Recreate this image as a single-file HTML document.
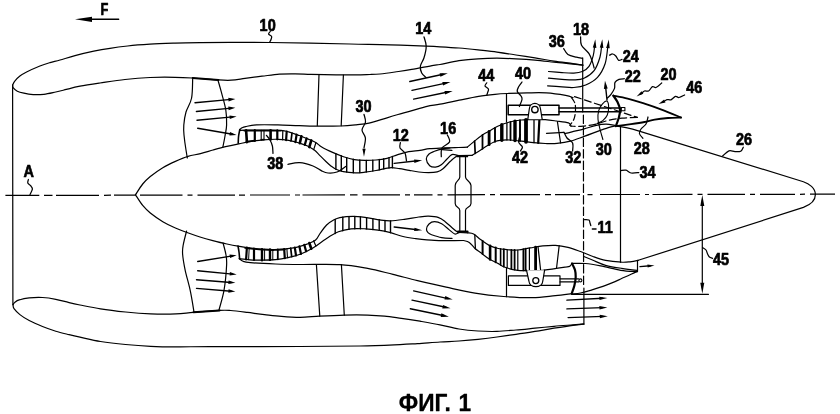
<!DOCTYPE html>
<html lang="ru">
<head>
<meta charset="utf-8">
<title>ФИГ. 1</title>
<style>
html,body{margin:0;padding:0;background:#fff;}
body{width:840px;height:414px;overflow:hidden;}
svg{display:block;will-change:transform;}
svg text{font-family:"Liberation Sans",sans-serif;font-weight:bold;fill:#000;stroke:#000;stroke-width:0.7;stroke-linejoin:round;}
svg text.cap{stroke-width:0.3;}
</style>
</head>
<body>
<svg width="840" height="414" viewBox="0 0 840 414">
<g fill="none" stroke="#000" stroke-width="1.2" stroke-linecap="round" stroke-linejoin="round">
<path d="M5.4,195.4 L39.3,195.4 M44,195.3 L52.5,195.3 M56,195.3 L99,195.3 M104,195.3 L111,195.2 M114,195.2 L135.5,195.2 M140,195.2 L182.5,195.1 M187.5,195.1 L192.5,195.1 M197.5,195.1 L235,195.1 M239,195.1 L245,195.1 M250,195 L290,195 M295,195 L300,195 M302.5,195 L345,194.9 M350,194.9 L357.5,194.9 M362.5,194.9 L400,194.8 M405,194.8 L410,194.8 M414,194.8 L432.5,194.8 M437.5,194.8 L442.5,194.8 M447.5,194.8 L485,194.7 M490,194.7 L495,194.7 M500,194.7 L540,194.6 M545,194.6 L551,194.6 M555,194.6 L580,194.6 M587.5,194.6 L592.5,194.6 M600,194.5 L640,194.5 M645,194.5 L649,194.5 M652.5,194.5 L692.5,194.4 M697.5,194.4 L702.5,194.4 M707.5,194.4 L745,194.3 M750,194.3 L755,194.3 M760,194.3 L795,194.3 M800,194.3 L805,194.2 M810,194.2 L835,194.2" stroke-linecap="butt"/>
<path d="M12.6,85.2 L12.9,304.5"/>
<path d="M12.6,85.2 C12.9,84.5 13.4,82.8 14.6,81.3 C15.8,79.8 17.9,77.5 19.9,76 C21.9,74.5 23.3,73.7 26.6,72 C29.9,70.3 36,67.6 39.9,66 C43.8,64.4 46.6,63.6 50,62.6 C53.4,61.6 55.8,61.2 60,60 C64.2,58.8 69.4,57.1 75,55.6 C80.6,54.1 88,52.3 93.8,51.1 C99.6,49.9 104.4,49.1 110,48.3 C115.6,47.4 120.9,46.7 127.6,46 C134.3,45.3 142.1,44.7 150,44.2 C157.9,43.7 166.7,43.4 175,43.1 C183.3,42.8 190.8,42.7 200,42.6 C209.2,42.5 218.3,42.4 230,42.4 C241.7,42.4 250,42.2 270,42.5 C290,42.8 330,43.6 350,44 C370,44.4 377.3,44.4 390,44.8 C402.7,45.2 417.9,45.9 426.2,46.2 C434.5,46.5 434.5,46.5 440,46.8 C445.5,47.1 452.7,47.5 459,48 C465.3,48.5 471.7,49.2 478,49.9 C484.3,50.6 490.7,51.2 497,52.1 C503.3,53 509.7,54 516,55 C522.3,56 528.7,56.9 535,57.9 C541.3,58.9 547.7,60.1 554,61.1 C560.3,62.1 568.2,62.9 573,63.6 C577.8,64.3 581.2,64.8 582.9,65.1"/>
<path d="M12.6,85.2 C12.7,85.7 12.5,86.9 13.3,87.9 C14.1,88.9 15.5,90.3 17.3,91.2 C19.1,92.1 21.2,92.6 23.9,93.2 C26.5,93.8 29.9,94.4 33.2,94.6 C36.5,94.8 40.1,94.7 43.9,94.3 C47.7,93.9 52,92.8 55.8,92 C59.5,91.2 62.4,90.4 66.4,89.4 C70.4,88.4 74.4,87.3 80,86.2 C85.6,85.1 92.5,84.1 100,83 C107.5,81.9 116.7,80.4 125,79.5 C133.3,78.6 141.7,77.9 150,77.5 C158.3,77.1 167.9,77.2 175,77.3 C182.1,77.4 185.6,77.6 192.7,78 C199.8,78.4 211.4,79.5 217.8,79.9 C224.2,80.3 226.8,80.5 231.3,80.2 C235.8,80 239.9,79.1 245,78.4 C250.1,77.7 256.3,76.9 262,76.2 C267.7,75.5 273.9,74.5 279.4,74.1 C284.9,73.7 289.8,73.8 295,73.8 C300.2,73.8 304,74.1 310.8,74.3 C317.6,74.5 328.5,74.7 336,74.8 C343.5,74.9 350.3,74.8 356,74.8 C361.7,74.8 366,74.6 370,74.5 C374,74.4 375.8,74.4 380,74 C384.2,73.6 389.7,72.8 395,72 C400.3,71.2 405.3,70.5 411.7,69.4 C418.1,68.3 428.8,66.1 433.5,65.3 C438.2,64.5 435.8,65.3 440,64.5 C444.2,63.7 452.7,61.7 459,60.7 C465.3,59.8 471.7,59.2 478,58.8 C484.3,58.4 490.7,58.2 497,58.2 C503.3,58.2 509.7,58.5 516,58.8 C522.3,59.1 528.7,59.5 535,60.1 C541.3,60.7 547.7,61.5 554,62.2 C560.3,62.9 568.2,63.6 573,64.1 C577.8,64.6 581.2,64.9 582.9,65.1"/>
<path d="M192.7,78 L218.4,80" stroke-width="2"/>
<path d="M13,304.8 C13.2,305.4 12.8,307 14,308.6 C15.2,310.2 17.4,312.6 19.9,314.6 C22.4,316.6 25.4,318.5 29.2,320.5 C33,322.5 38.1,324.7 42.5,326.5 C46.9,328.3 51.4,329.8 55.8,331.2 C60.2,332.6 65.1,333.7 69.1,334.7 C73.1,335.7 74.8,336.1 80,337.2 C85.2,338.3 92.9,340.3 100.5,341.5 C108.1,342.7 117.2,343.7 125.6,344.5 C134,345.3 142.3,345.9 150.7,346.3 C159.1,346.7 166.1,346.8 176,346.8 C185.9,346.9 189.3,346.7 210,346.6 C230.7,346.6 275,346.6 300,346.5 C325,346.4 343.3,346.3 360,346 C376.7,345.7 390.4,345 400,344.6 C409.6,344.2 410.8,344 417.5,343.6 C424.2,343.2 433.1,342.4 440,342 C446.9,341.6 452.7,341.4 459,341 C465.3,340.6 471.7,340.1 478,339.4 C484.3,338.7 490.7,337.9 497,337 C503.3,336.1 509.7,335.2 516,334.3 C522.3,333.4 528.7,332.4 535,331.4 C541.3,330.4 547.7,329.2 554,328.2 C560.3,327.2 568,326 573,325.3 C578,324.6 582,324.4 583.8,324.2"/>
<path d="M13,304.8 C13.3,304.4 13.4,303.2 14.6,302.4 C15.8,301.5 17.5,300.4 19.9,299.7 C22.3,298.9 25.4,298.3 29.2,297.9 C33,297.5 38.1,297.3 42.5,297.5 C46.9,297.7 51.4,298.4 55.8,299.3 C60.2,300.2 65.1,301.7 69.1,302.6 C73.1,303.6 74.8,304 80,305 C85.2,306 92.9,307.6 100.5,308.8 C108.1,310 117.2,311.1 125.6,312 C134,312.9 142.3,313.6 150.7,313.9 C159.1,314.2 168.9,314.2 176,313.9 C183.1,313.6 186.2,312.9 193.5,312.3 C200.8,311.7 213.5,310.7 219.7,310.4 C225.9,310.1 226,310.2 230.7,310.5 C235.3,310.8 242,311.7 247.6,312.4 C253.2,313.1 258.9,314 264.5,314.6 C270.1,315.2 275.5,315.9 281.4,316.3 C287.3,316.8 293.7,317.3 300,317.3 C306.3,317.3 312,316.6 319.4,316.2 C326.8,315.8 336.3,315.3 344.3,315.1 C352.3,314.9 360.9,314.9 367.6,315.1 C374.3,315.3 378.9,315.6 384.5,316.1 C390.1,316.6 395.5,317.5 401.4,318.3 C407.3,319.1 413.6,320.1 420,321.2 C426.4,322.3 433.5,323.5 440,324.8 C446.5,326.1 452.7,328 459,329 C465.3,330 471.7,330.6 478,331 C484.3,331.4 490.7,331.6 497,331.4 C503.3,331.2 509.7,330.5 516,330 C522.3,329.5 528.7,328.8 535,328.2 C541.3,327.6 547.7,326.9 554,326.3 C560.3,325.7 568,325.2 573,324.8 C578,324.4 582,324 583.8,323.8"/>
<path d="M193.5,312.3 L219.7,310.4" stroke-width="2"/>
<path d="M135.5,194.8 C136.7,193 140.2,187.1 142.7,184 C145.2,180.9 147,179.2 150.3,176.5 C153.7,173.8 158.6,170.2 162.8,167.7 C167,165.2 171.2,163.3 175.4,161.4 C179.6,159.5 183.8,157.7 188,156.4 C192.2,155.1 196.3,154.7 200.5,153.6 C204.7,152.5 208.8,151.2 213,150 C217.2,148.8 221.3,147.6 225.6,146.6 C229.9,145.6 234.7,144.6 238.8,143.8 C242.9,143 245.9,142.3 250,141.6 C254.1,140.9 258.8,140.2 263.5,139.8 C268.2,139.4 273.8,139.2 278,139.3 C282.2,139.4 285.1,139.8 288.6,140.4 C292.2,141 296.2,142.1 299.3,143 C302.4,143.9 304.5,144.5 307,145.7 C309.5,146.9 312.3,148.5 314.3,150 C316.3,151.5 317.4,153 319.2,154.8 C321,156.6 323.2,158.9 325.2,160.8 C327.2,162.7 329.4,164.8 331.2,166.2 C333,167.6 334,168.4 336,169.3 C338,170.2 340.1,171.1 343.3,171.7 C346.5,172.3 351.4,172.8 355,172.9 C358.6,173 361.5,172.6 365,172.2 C368.5,171.8 372.7,171.1 376,170.5 C379.3,169.9 382.4,169.1 385,168.6 C387.6,168.1 389.4,167.7 391.8,167.7 C394.2,167.7 396.6,168.3 399.5,168.7 C402.4,169.1 406,169.8 409.2,170.3 C412.4,170.9 415.6,171.6 418.8,172 C422,172.4 425.4,172.7 428.5,172.7 C431.6,172.7 434.8,172.6 437.2,171.9 C439.6,171.2 440.8,170.5 443,168.7 C445.2,166.9 448.4,163.1 450.7,161 C452.9,158.9 455.2,157.2 456.5,156.3 C457.8,155.4 458.2,155.8 458.6,155.7"/>
<path d="M458.6,155.7 L472.2,155.3"/>
<path d="M472.2,155.3 C473.2,154.7 475.4,153.3 478,151.7 C480.6,150.1 484.9,147.1 487.6,145.5 C490.3,143.9 491.9,142.9 494,142 C496.1,141.1 497.4,140.6 500,140.3 C502.6,140 506,139.8 509.6,140 C513.2,140.2 517.5,140.8 521.5,141.2 C525.5,141.6 529.4,142.3 533.4,142.7 C537.4,143.1 541.4,143.4 545.3,143.5 C549.2,143.6 552.8,143.8 557,143.4 C561.2,143 565.9,142.4 570.4,141.2 C574.9,140 579.9,137.9 584.2,136.4 C588.5,134.9 592.3,133.4 596.3,131.9 C600.3,130.4 605.1,128.6 608.3,127.6 C611.5,126.6 614.4,126.1 615.6,125.8"/>
<path d="M135.5,194.8 C136.7,196.6 140.2,202.4 142.7,205.4 C145.2,208.4 147,210.3 150.3,213 C153.7,215.7 158.6,219.2 162.8,221.7 C167,224.2 171.2,226.2 175.4,228 C179.6,229.8 183.6,231.3 187.7,232.8 C191.8,234.3 195.8,235.7 200,237 C204.2,238.3 208.6,239.5 212.8,240.6 C217,241.7 221.2,242.8 225.4,243.7 C229.6,244.6 233.3,245.4 238,246.2 C242.7,247 249.2,247.9 253.4,248.4 C257.6,248.9 259.4,249 263,249.2 C266.6,249.4 271.1,249.6 274.9,249.5 C278.7,249.4 282,249.3 285.6,248.9 C289.2,248.5 292.7,248.1 296.3,247.3 C299.9,246.5 303.8,245.3 307,244.1 C310.2,242.9 313.4,241.8 315.6,240 C317.8,238.2 318.2,236 320,233.5 C321.8,231 324.4,227.2 326.6,225 C328.8,222.8 331,221.5 333.2,220.3 C335.4,219.1 336.5,218.3 339.8,217.6 C343.1,216.9 348.7,216.3 353.1,216.3 C357.5,216.3 362,217 366.4,217.6 C370.8,218.2 375.7,219.3 379.7,219.9 C383.7,220.5 386.4,221 390.5,220.9 C394.6,220.8 399.6,220 404.3,219.3 C409,218.7 414.8,217.5 418.8,217 C422.8,216.5 425.3,216.1 428.5,216.2 C431.7,216.3 435.4,216.5 438.1,217.4 C440.8,218.3 442.5,219.6 444.9,221.4 C447.3,223.2 450.5,226.4 452.6,228.2 C454.7,230 456.4,231.3 457.5,232 C458.6,232.7 458.8,232.4 459,232.5"/>
<path d="M459,232.5 L467.8,232.8"/>
<path d="M467.8,232.8 C468.8,233 471.4,232.8 473.6,234 C475.8,235.2 478.2,237.9 480.9,239.8 C483.6,241.7 486.7,244.2 489.6,245.6 C492.5,247 495.4,247.8 498.3,248.5 C501.2,249.2 503.8,249.3 507,249.6 C510.2,249.8 513.8,250.3 517.7,250 C521.6,249.7 526.1,248.6 530.3,247.9 C534.5,247.2 538.6,246.3 542.8,245.9 C547,245.5 551.2,245.2 555.4,245.4 C559.6,245.7 563.8,246.4 568,247.4 C572.2,248.4 576.3,250 580.5,251.5 C584.7,253 588.8,255 593,256.5 C597.2,258 600.9,259.4 605.6,260.3 C610.4,261.2 617.4,261.9 621.5,262.2 C625.6,262.4 627.2,262.1 630,261.8 C632.8,261.5 636.9,260.6 638.3,260.3"/>
<path d="M239.6,130.3 C241.7,130.3 247.8,130.2 252,130.2 C256.2,130.2 260.2,130.2 265,130.2 C269.8,130.2 277.1,130.1 281,130.4 C284.9,130.7 285.6,131 288.6,131.8 C291.7,132.7 295.7,134.2 299.3,135.5 C302.9,136.8 307.1,138.6 310,139.8 C312.9,141.1 314.6,141.8 316.5,143 C318.4,144.2 319,145.4 321.7,147 C324.4,148.6 329,150.8 332.6,152.4 C336.2,154 339.9,155.5 343.5,156.7 C347.1,157.9 350.7,159 354.3,159.6 C357.9,160.2 361.4,160.3 365,160.4 C368.6,160.5 372.3,160.3 376,160 C379.7,159.7 383.4,159.2 387,158.3 C390.6,157.4 394.2,155.7 397.8,154.6 C401.4,153.5 405,152.3 408.7,151.6 C412.4,150.9 416.5,150.8 420,150.3 C423.5,149.8 425.7,149 429.7,148.6 C433.7,148.2 439.4,148.1 444.2,147.9 C449,147.7 454.8,147.6 458.6,147.5 C462.5,147.4 465.9,147.2 467.3,147.2"/>
<path d="M467.3,147.2 C468.6,146.1 472.5,142.7 475.1,140.6 C477.7,138.5 480.4,136.4 482.8,134.8 C485.2,133.2 487.1,132.4 489.6,131 C492.1,129.6 494.4,127.8 497.7,126.3 C501,124.8 505.6,123 509.6,122 C513.6,121 517.5,120.4 521.5,120 C525.5,119.6 529.4,119.5 533.4,119.4 C537.4,119.4 541.4,119.4 545.3,119.7 C549.2,120 552.7,120.5 556.6,121 C560.5,121.5 566.1,122 568.5,122.9 C570.9,123.8 570.6,125.7 571,126.2"/>
<path d="M239.8,129.6 C240.2,129.3 241,128.3 242,127.8 C243,127.3 243.3,127.1 245.7,126.6 C248.1,126.1 251,125.2 256.4,124.9 C261.8,124.6 270.8,124.8 277.9,124.9 C285,125 292.1,125.5 299.3,125.7 C306.6,125.9 314.4,126.2 321.4,126.2 C328.3,126.2 335.2,126.2 341,126 C346.8,125.8 351.3,125.3 356,124.8 C360.7,124.3 363.8,124.4 369,123.2 C374.2,122 382.2,119.2 387,117.8 C391.8,116.3 393.8,115.7 398,114.5 C402.2,113.3 407.2,112 412,110.6 C416.8,109.2 422.3,107.4 427,106.3 C431.7,105.2 434.6,105.2 440,104.2 C445.4,103.2 452.9,101.5 459.3,100.2 C465.7,98.9 472.7,97.4 478.6,96.4 C484.6,95.4 490.2,94.8 495,94.3 C499.8,93.8 502.3,93.7 507.6,93.5 C512.9,93.3 520.5,93 527,92.9 C533.5,92.8 539.9,92.5 546.3,92.9 C552.7,93.3 561.1,94.6 565.6,95.4 C570.1,96.2 571.8,97.2 573,97.6"/>
<path d="M574.5,96.6 L637.3,117.4" stroke-dasharray="7 3.5"/>
<path d="M239.8,129.5 C239.6,130.6 238.9,133.7 238.6,136 C238.3,138.3 238.3,142.1 238.2,143.3" stroke-width="1.6"/>
<path d="M565.5,133.4 C566.6,133.2 568.9,132.7 572,131.9 C575.1,131.1 580.2,129.9 584.2,128.8 C588.2,127.7 592.7,126.2 596.3,125.4 C599.9,124.6 602.8,124.2 606,124.2 C609.2,124.2 614,125.3 615.6,125.5"/>
<path d="M239.2,258.7 C241,258.9 246,259.6 250,259.8 C254,260.1 258.7,260.2 263,260.2 C267.3,260.2 271.4,260.1 275.6,259.7 C279.8,259.3 283.8,258.6 288,257.7 C292.2,256.8 296.6,255.7 300.8,254 C305,252.3 309.1,250.2 313.3,247.7 C317.5,245.2 321.7,241.6 325.9,238.9 C330.1,236.2 334.2,233.5 338.4,231.8 C342.6,230.1 346.5,229.3 351,228.8 C355.5,228.3 360.9,228.6 365.4,228.8 C369.9,229 373.8,229.5 378,230.2 C382.2,230.8 386.3,231.6 390.5,232.7 C394.7,233.8 398.8,235.5 403,236.5 C407.2,237.5 410.4,237.9 415.6,238.6 C420.9,239.2 428.9,240.1 434.5,240.4 C440.1,240.7 444.2,240.6 449,240.6 C453.8,240.6 461.1,240.5 463.5,240.5"/>
<path d="M463.5,240.5 C464.5,240.8 467.4,241.1 469.3,242.4 C471.2,243.7 473.1,246.8 475,248.5 C476.9,250.2 478.5,251 480.9,252.8 C483.3,254.6 486.7,257.5 489.6,259.3 C492.5,261.1 495.7,262.3 498.3,263.6 C500.9,264.9 501.8,266.2 505,267.3 C508.2,268.4 513.5,269.8 517.7,270.3 C521.9,270.8 526.1,270.5 530.3,270.5 C534.5,270.5 538.9,270.6 542.8,270.3 C546.7,270 549.9,269.3 553.6,268.8 C557.3,268.3 562.3,267.6 565,267.2 C567.7,266.8 568.4,267 569.6,266.4 C570.8,265.8 571.6,263.9 572,263.4"/>
<path d="M239.4,258.7 C240,259.1 241.2,260.6 243,261.3 C244.8,262 245.1,262.2 250.5,262.6 C255.9,263.1 267.2,263.7 275.6,264 C284,264.3 290.1,264.4 300.8,264.5 C311.5,264.6 328.9,264 340,264.6 C351.1,265.2 358.8,266.8 367.6,268.4 C376.4,270 384.7,272.4 393,274.4 C401.3,276.4 408.6,278.5 417.5,280.6 C426.4,282.7 436.6,285.1 446.2,287.2 C455.8,289.3 465.4,291.6 475,293.2 C484.6,294.8 494.1,295.8 503.7,296.5 C513.3,297.2 523.8,297.8 532.4,297.6 C541,297.5 548.8,296.2 555.4,295.6 C562,295 569,294 571.7,293.7"/>
<path d="M238,246 C238.2,247 238.7,249.9 239,252 C239.3,254.1 239.5,257.6 239.6,258.7" stroke-width="1.6"/>
<path d="M192.7,78 C192.5,81.3 192.7,92.3 191.6,98 C190.5,103.7 187.3,107.5 186,112 C184.7,116.5 184.1,121.2 183.8,125 C183.5,128.8 183.6,130.8 184,135 C184.4,139.2 185.4,146.2 186,150 C186.6,153.8 187.1,156.7 187.3,158"/>
<path d="M217.8,79.6 C218.4,81.8 220.2,87.6 221.5,92.7 C222.8,97.8 225,104.6 225.8,110 C226.7,115.4 226.7,120.7 226.6,125 C226.5,129.3 225.6,132.3 225,136 C224.4,139.7 223.2,145.4 222.8,147.3"/>
<path d="M186.6,231 C186,233.3 183.9,241.2 183.2,245 C182.5,248.8 182.3,249.8 182.6,254 C182.9,258.2 183.9,264.2 185.2,270.3 C186.5,276.4 188.7,283.4 190.2,290.4 C191.7,297.3 193.4,308.4 194,312"/>
<path d="M223,242.8 C223.5,244.8 225.4,251.2 226,255 C226.6,258.8 226.9,259.4 226.6,265.3 C226.3,271.2 225.3,282.9 224,290.4 C222.7,297.8 219.8,306.7 219,310"/>
<path d="M195,102.7 L231.2,99.4" stroke-width="1.4"/>
<polygon fill="#000" stroke="none" points="235.4,99 228.6,101.4 228.3,97.8"/>
<path d="M196.4,111.5 L231.2,108.1" stroke-width="1.4"/>
<polygon fill="#000" stroke="none" points="235.4,107.7 228.6,110.2 228.3,106.6"/>
<path d="M197,120.3 L232.4,116.9" stroke-width="1.4"/>
<polygon fill="#000" stroke="none" points="236.6,116.5 229.8,119 229.5,115.4"/>
<path d="M197.7,128.3 L232.5,134.2" stroke-width="1.4"/>
<polygon fill="#000" stroke="none" points="236.6,134.9 229.4,135.5 230,132"/>
<path d="M197.7,261.5 L232.6,255.9" stroke-width="1.4"/>
<polygon fill="#000" stroke="none" points="236.7,255.2 230.1,258.1 229.5,254.5"/>
<path d="M197.7,270.8 L232.5,274.1" stroke-width="1.4"/>
<polygon fill="#000" stroke="none" points="236.7,274.5 229.6,275.6 229.9,272"/>
<path d="M196.5,279.8 L231.2,282.5" stroke-width="1.4"/>
<polygon fill="#000" stroke="none" points="235.4,282.8 228.3,284.1 228.6,280.5"/>
<path d="M196.5,288.4 L231.2,291.3" stroke-width="1.4"/>
<polygon fill="#000" stroke="none" points="235.4,291.6 228.3,292.8 228.6,289.2"/>
<path d="M319,74.6 L317.3,125.6"/>
<path d="M343.4,75 L341.2,125.6"/>
<path d="M316.4,264.6 L319.8,316.1"/>
<path d="M341.4,264.6 L344.3,315.2"/>
<path d="M246.1,130.2 L246.9,142.2" stroke-width="2.6"/>
<path d="M254.8,130.2 L254.8,141" stroke-width="2.2"/>
<path d="M261.2,130.2 L261.2,140.1" stroke-width="1.1"/>
<path d="M264,130.2 L264,139.8" stroke-width="1.1"/>
<path d="M270.6,130.3 L270.6,139.6" stroke-width="2.6"/>
<path d="M277.3,130.4 L277.3,139.3" stroke-width="2.2"/>
<path d="M282.8,130.7 L282.6,139.8" stroke-width="1.2"/>
<path d="M286.7,131.5 L286.1,140.1" stroke-width="2.2"/>
<path d="M292,133 L291,141" stroke-width="1.7"/>
<path d="M296.6,134.6 L295.4,142.1" stroke-width="2.2"/>
<path d="M301.4,136.3 L299.8,143.2" stroke-width="2.6"/>
<path d="M306.6,138.4 L304.8,144.9" stroke-width="2.2"/>
<path d="M311.3,140.4 L309.3,147.1" stroke-width="2.6"/>
<path d="M315.9,142.7 L313.7,149.6" stroke-width="1.2"/>
<path d="M245,248 C246.4,248.2 250.4,248.7 253.4,249 C256.4,249.3 259.4,249.6 263,249.8 C266.6,250 271.2,250.2 274.9,250.1 C278.6,250 283.3,249.6 285,249.5" stroke-width="1.5"/>
<path d="M244,130.6 C246.7,130.6 253.8,130.6 260,130.6 C266.2,130.6 277.5,130.8 281,130.8" stroke-width="1.6"/>
<path d="M246.5,141.6 L254.8,140.6" stroke-width="1.6"/>
<path d="M261.2,139.8 L264,139.6" stroke-width="1.6"/>
<path d="M246.9,247.5 L246.1,259.4" stroke-width="2.2"/>
<path d="M249.2,247.8 L248.6,259.7" stroke-width="1"/>
<path d="M254,248.5 L254,259.9" stroke-width="2.2"/>
<path d="M262,249.1 L262,260.2" stroke-width="2.4"/>
<path d="M264.6,249.2 L264.6,260.1" stroke-width="1"/>
<path d="M270,249.4 L270,259.9" stroke-width="2.4"/>
<path d="M272.8,249.4 L272.8,259.8" stroke-width="1"/>
<path d="M277.8,249.3 L277.8,259.3" stroke-width="1.8"/>
<path d="M284.2,249 L284.8,258.2" stroke-width="2.2"/>
<path d="M286.9,248.7 L287.5,257.8" stroke-width="1.1"/>
<path d="M290.7,248.1 L291.7,256.6" stroke-width="1.7"/>
<path d="M294.8,247.5 L296,255.4" stroke-width="2.2"/>
<path d="M299.4,246.4 L301,253.9" stroke-width="2.2"/>
<path d="M304.3,244.9 L306.1,251.3" stroke-width="2.2"/>
<path d="M309.3,243 L311.3,248.7" stroke-width="2.6"/>
<path d="M313.7,240.9 L315.9,245.9" stroke-width="1.2"/>
<path d="M335.9,153.7 L335.9,169.2" stroke-width="1.4"/>
<path d="M341.3,155.8 L341.3,171" stroke-width="1.4"/>
<path d="M346.7,157.6 L346.7,172" stroke-width="1.4"/>
<path d="M353.3,159.3 L353.3,172.7" stroke-width="1.4"/>
<path d="M359.8,160 L359.8,172.6" stroke-width="1.4"/>
<path d="M366.3,160.4 L366.3,172" stroke-width="1.4"/>
<path d="M372.8,160.1 L372.8,171" stroke-width="1.4"/>
<path d="M379.3,159.5 L379.3,169.8" stroke-width="1.4"/>
<path d="M383.7,158.8 L383.7,168.9" stroke-width="1.4"/>
<path d="M389,157.6 L389,168.1" stroke-width="1.4"/>
<path d="M392.4,156.5 L392.4,167.8" stroke-width="1.4"/>
<path d="M335.2,219.5 L335.2,233.6" stroke-width="1.4"/>
<path d="M342.8,217.3 L342.8,230.8" stroke-width="1.4"/>
<path d="M349,216.7 L349,229.3" stroke-width="1.4"/>
<path d="M354.8,216.5 L354.8,228.8" stroke-width="1.4"/>
<path d="M360.4,217 L360.4,228.8" stroke-width="1.4"/>
<path d="M366.6,217.6 L366.6,228.9" stroke-width="1.4"/>
<path d="M372.9,218.7 L372.9,229.6" stroke-width="1.4"/>
<path d="M379.2,219.8 L379.2,230.4" stroke-width="1.4"/>
<path d="M385,220.4 L385,231.6" stroke-width="1.4"/>
<path d="M390.5,220.9 L390.5,232.7" stroke-width="1.4"/>
<path d="M474.6,141 L475.2,153.4" stroke-width="1.7"/>
<path d="M482.5,135 L482.5,148.8" stroke-width="1.8"/>
<path d="M489.1,131.3 L489.1,144.7" stroke-width="2.8"/>
<path d="M495,127.9 L495,141.7" stroke-width="1.9"/>
<path d="M501.8,124.8 L501.8,140.2" stroke-width="3.4"/>
<path d="M506.9,123 L506.9,140.1" stroke-width="1.3"/>
<path d="M510.5,121.8 L510.5,140.1" stroke-width="1.8"/>
<path d="M515,121.1 L515,140.5" stroke-width="3.4"/>
<path d="M520,120.3 L520,141" stroke-width="1.9"/>
<path d="M526,119.8 L526,141.8" stroke-width="3.8"/>
<path d="M534,119.4 L534,142.7" stroke-width="1.3"/>
<path d="M539.4,119.6 L538.2,143" stroke-width="2.2"/>
<path d="M474.8,235 L475.4,248.8" stroke-width="1.3"/>
<path d="M482.6,240.9 L482.6,254.1" stroke-width="2"/>
<path d="M490.1,245.8 L490.1,259.5" stroke-width="2.6"/>
<path d="M495.7,247.6 L495.7,262.3" stroke-width="2"/>
<path d="M500.6,248.8 L500.6,264.9" stroke-width="1.6"/>
<path d="M503.8,249.2 L503.8,266.6" stroke-width="1.8"/>
<path d="M507.2,249.6 L507.2,267.8" stroke-width="1.2"/>
<path d="M511.4,249.8 L511.4,268.8" stroke-width="1.8"/>
<path d="M514.6,249.9 L514.6,269.6" stroke-width="1.8"/>
<path d="M517.8,250 L517.8,270.3" stroke-width="1.2"/>
<path d="M523.4,249.1 L523.4,270.4" stroke-width="1.8"/>
<path d="M525.6,248.7 L525.6,270.4" stroke-width="1.8"/>
<path d="M529.4,248.1 L529.4,270.5" stroke-width="1.2"/>
<path d="M535.6,247.1 L535.6,270.4" stroke-width="2.8"/>
<path d="M557.4,121.6 L560.6,143"/>
<path d="M538,246.5 L540.6,270"/>
<path d="M559.2,245.6 L556.6,267.5"/>
<path d="M458,155.4 C457,155.3 453.7,154 451.9,154.6 C450.1,155.2 448.8,157.3 447,159 C445.2,160.7 443.2,163.4 441.3,164.8 C439.4,166.2 437.4,167 435.5,167.2 C433.6,167.3 431.2,167.1 429.7,165.7 C428.2,164.3 426.4,160.9 426.3,159 C426.2,157.1 427.6,155.3 429,154 C430.4,152.7 432.3,152.2 434.5,151.3 C436.7,150.4 439.6,149.4 442.2,148.8 C444.8,148.2 448.7,148.1 450,148"/>
<path d="M442.2,149.6 L451.9,150.4"/>
<path d="M459,232.6 C458.3,232.8 456.5,234.5 454.8,234 C453.1,233.5 451.2,231.3 449,229.6 C446.8,227.9 444.1,225.1 441.7,223.8 C439.3,222.5 436.6,221.7 434.5,221.7 C432.4,221.7 430.3,222.8 429,224 C427.7,225.2 426.7,227.6 426.5,229 C426.3,230.4 427.1,231.7 428,232.6 C428.9,233.5 429.3,233.9 431.6,234.7 C433.9,235.5 438.3,237 441.7,237.6 C445.1,238.2 450.3,238.3 452,238.4"/>
<path d="M394.2,163.4 L417.4,160.8" stroke-width="1.4"/>
<polygon fill="#000" stroke="none" points="422.2,160.3 414.4,162.9 414.1,159.5"/>
<path d="M394.2,227 L417.4,229.7" stroke-width="1.4"/>
<polygon fill="#000" stroke="none" points="422.2,230.3 414.1,231.1 414.5,227.7"/>
<path d="M457.2,156.4 L467.3,156.4" stroke-width="1.8"/>
<path d="M459.8,156.7 L459.8,177 C459.8,180.5 455.2,181 455.2,185.5 L455.2,203.5 C455.2,207.5 459.8,207 459.8,210.5 L459.8,230.6 M465.5,156.7 L465.5,177 C465.5,180.5 471,181 471,185.5 L471,203.5 C471,207.5 465.5,207 465.5,210.5 L465.5,230.6"/>
<path d="M458,231.6 L467.5,231.6" stroke-width="2.2"/>
<path d="M506.5,93.5 L506.5,121.8"/>
<rect x="508.2" y="105.3" width="50.8" height="9.4" stroke-width="1.5"/>
<path d="M559,108.1 L621,108.1" stroke-width="1.5"/>
<path d="M559,111.7 L621,111.7" stroke-width="1.5"/>
<path d="M527.8,119.3 L529.3,109 C529.8,101.6 540,101.6 540.5,109 L542.2,119.3" fill="#fff"/>
<circle cx="534.9" cy="109.6" r="3.2" stroke-width="1.4"/>
<rect x="621.3" y="107.5" width="3.6" height="3.3" stroke-width="1.1"/>
<path d="M571.4,97.6 C572,98.5 574.1,100.9 574.8,103 C575.5,105.1 575.6,107.3 575.5,110 C575.4,112.7 575,116.4 574,119 C573,121.6 570.5,124.3 569.8,125.4" stroke-dasharray="6 3"/>
<path d="M582.7,57.9 L582.7,112"/>
<path d="M583.4,115 L583.6,287" stroke-dasharray="8.5 3"/>
<path d="M583.9,288 L583.9,324.2"/>
<path d="M548.5,71.5 C550.8,71.7 557.8,72.3 562,72.6 C566.2,72.9 570.4,73.3 573.8,73.1 C577.2,72.9 579.8,72.6 582.3,71.5 C584.8,70.4 587.2,69.1 589,66.4 C590.8,63.7 592.4,58.8 593.3,55.4 C594.2,52 594.4,47.6 594.6,46"/>
<path d="M548.5,78.2 C550.8,78.4 557.8,79 562,79.3 C566.2,79.6 570.1,80.1 573.8,79.9 C577.5,79.7 580.6,79.8 584,78.2 C587.4,76.7 591.4,74.1 594.1,70.6 C596.8,67.1 598.8,61.1 600,57 C601.2,52.9 601.3,47.8 601.6,46"/>
<path d="M547.6,85.8 C550,86 557.6,86.6 562,86.9 C566.4,87.2 569.8,87.8 573.8,87.5 C577.8,87.2 581.8,86.7 585.7,85 C589.7,83.3 594.3,80.9 597.5,77.4 C600.7,73.9 603.4,68.9 605.1,63.8 C606.8,58.7 607.3,49.8 607.8,47"/>
<polygon fill="#000" stroke="none" points="595.3,39.3 596.4,47.9 592.8,47.6"/>
<polygon fill="#000" stroke="none" points="602.3,39.3 603.4,47.9 599.8,47.6"/>
<polygon fill="#000" stroke="none" points="608.8,39.6 609.7,48.2 606.1,47.9"/>
<path d="M607,100 L605.5,85.6" stroke-width="1.4"/>
<polygon fill="#000" stroke="none" points="605,80.8 607.7,88.6 603.9,89"/>
<path d="M613.3,95.6 C615.7,96.1 622.4,97.2 627.6,98.6 C632.8,99.9 638.9,101.9 644.5,103.7 C650.1,105.5 655.4,107.3 661.5,109.6 C667.6,111.9 677.8,116.2 681,117.5" stroke-width="1.8"/>
<path d="M681,117.5 C678.8,117.6 672.4,117.6 668,118 C663.6,118.4 658.6,119 654.7,119.7 C650.8,120.4 648.5,121.2 644.5,122 C640.5,122.8 635.8,123.5 631,124.2 C626.2,124.9 618.3,125.9 615.8,126.2" stroke-width="1.8"/>
<path d="M613.3,95.6 C614,96.7 616.4,99.7 617.5,102 C618.6,104.3 619.8,107.1 620,109.6 C620.2,112.1 619.7,114.2 619,117 C618.3,119.8 616.3,124.7 615.8,126.2" stroke-width="2.2"/>
<path d="M637.3,117.4 C634.8,117.5 626.8,117.7 622,118.2 C617.2,118.7 612.6,119.4 608.3,120.4 C604,121.4 600.5,123 596.3,124 C592.1,125 587.2,125.8 583,126.2 C578.8,126.6 573,126.2 571,126.2" stroke-dasharray="7 3.5"/>
<path d="M602.9,139.5 C602.4,137.7 600.7,132.2 599.9,128.8 C599.1,125.4 598.2,122.2 598,119.2 C597.8,116.2 598,113.2 598.7,110.7 C599.4,108.2 601,105.8 602.3,104.2 C603.6,102.6 605.5,100.7 606.6,101 C607.7,101.3 608.5,103.7 608.6,106 C608.7,108.3 608.3,112.6 607.3,115 C606.3,117.4 604.5,119.2 602.8,120.6 C601.1,122 598,123.1 597,123.6" stroke-width="1.1"/>
<path d="M615.8,126.2 C622,126.6 630,128.4 640,131.3 L803.4,181.7 C809,183.5 815.4,188 815.4,194.5 C815.4,201 809,205.3 803.4,207.4 L638.3,260.3"/>
<path d="M620.5,126.5 L620.5,262.3"/>
<path d="M583.8,256.5 C585.3,257.1 589.4,258.8 593,260.3 C596.6,261.8 600.9,264 605.6,265.3 C610.4,266.6 616.3,267.5 621.5,268.3 C626.7,269.1 634.4,270 637,270.3"/>
<path d="M637.5,260.3 L637.5,271.6"/>
<path d="M640,266.6 L650.3,265.7" stroke-width="1.4"/>
<polygon fill="#000" stroke="none" points="654.5,265.4 647.7,267.6 647.4,264.4"/>
<path d="M506.5,268 L506.5,296.7"/>
<rect x="508.4" y="275.8" width="51.6" height="9.6"/>
<path d="M560,278.8 L578.5,278.8"/>
<path d="M560,281.9 L578.5,281.9"/>
<circle cx="580.4" cy="280.4" r="1.5" stroke-width="1.1"/>
<path d="M526.5,270.2 L528.9,281 C529.4,288.6 542.4,288.6 542.8,281 L544.6,270.2" fill="#fff"/>
<circle cx="535.8" cy="280.6" r="3" stroke-width="1.3"/>
<path d="M573,263.4 C575.1,263.4 580.9,263.1 585.5,263.5 C590.1,263.9 594.7,264.7 600.6,265.8 C606.5,266.9 614.6,269.3 620.7,270.3 C626.8,271.3 634.3,271.4 637,271.6"/>
<path d="M637,271.6 C634.3,272.8 625.9,276.7 620.7,279 C615.5,281.3 610.6,283.5 605.6,285.4 C600.6,287.3 594.7,289.1 590.5,290.4 C586.3,291.7 583.6,292.4 580.5,293 C577.4,293.6 573.2,293.8 571.7,294"/>
<path d="M572,263.4 C572.5,264.5 574.4,267.7 575,270 C575.6,272.3 575.8,274.4 575.7,277 C575.6,279.6 575.1,282.6 574.4,285.4 C573.7,288.2 572.2,292.2 571.7,293.6" stroke-width="2.2"/>
<path d="M571.7,294.3 L708.5,294.3"/>
<path d="M409.8,81.5 L443.1,74.3" stroke-width="1.4"/>
<polygon fill="#000" stroke="none" points="447.8,73.3 440.4,76.7 439.6,73.2"/>
<path d="M412,90.4 L445.8,83.1" stroke-width="1.4"/>
<polygon fill="#000" stroke="none" points="450.5,82.1 443.1,85.5 442.3,82"/>
<path d="M413.6,99.1 L448,92" stroke-width="1.4"/>
<polygon fill="#000" stroke="none" points="452.7,91 445.2,94.4 444.5,90.9"/>
<path d="M413.6,290.9 L448,298.6" stroke-width="1.4"/>
<polygon fill="#000" stroke="none" points="452.7,299.6 444.5,299.6 445.3,296.1"/>
<path d="M412,300.1 L445.8,307.3" stroke-width="1.4"/>
<polygon fill="#000" stroke="none" points="450.5,308.3 442.3,308.4 443.1,304.9"/>
<path d="M410.3,308.8 L444.2,315.7" stroke-width="1.4"/>
<polygon fill="#000" stroke="none" points="448.9,316.7 440.7,316.9 441.4,313.3"/>
<path d="M566.9,300.1 L602.6,298.2" stroke-width="1.4"/>
<polygon fill="#000" stroke="none" points="607.4,298 599.5,300.1 599.3,296.7"/>
<path d="M566.9,308.9 L602.6,307.6" stroke-width="1.4"/>
<polygon fill="#000" stroke="none" points="607.4,307.4 599.5,309.4 599.3,306"/>
<path d="M568.1,317.6 L603,316.4" stroke-width="1.4"/>
<polygon fill="#000" stroke="none" points="607.8,316.2 599.9,318.2 599.7,314.8"/>
<path d="M702.3,200 L702.3,288"/>
<polygon fill="#000" stroke="none" points="702.3,195 704.3,206 700.3,206"/>
<polygon fill="#000" stroke="none" points="702.3,293.8 700.3,282.8 704.3,282.8"/>
<g stroke-width="1.25">
<path d="M86,19.3 L118.6,19.3" stroke-width="1.5"/>
<polygon fill="#000" stroke="none" points="75,19.3 92,16.7 92,21.9"/>
<path d="M28.4,179.5 C28.3,180.1 27.4,182 27.8,183 C28.2,184 29.7,184.5 30.5,185.5 C31.3,186.5 32.5,187.5 32.4,189 C32.3,190.5 30.4,193.6 30,194.5"/>
<path d="M270.3,31.5 C270,31.9 268.4,33.2 268.6,34 C268.8,34.8 271.2,35.6 271.6,36.5 C272,37.4 271.3,38.5 271,39.5 C270.7,40.5 269.8,41.8 269.6,42.3"/>
<path d="M424,36.8 C424.4,38.4 426.2,42.7 426.2,46.2 C426.2,49.7 425,54.5 424,57.8 C423,61.1 420.8,63.5 420.4,66 C420,68.5 420.8,71.1 421.7,73 C422.6,74.9 425.3,76.7 426,77.4"/>
<path d="M364,114.3 C364.2,115.6 365.8,119.4 365.5,122 C365.2,124.6 362,127.3 362,130 C362,132.7 365.1,135 365.4,138 C365.7,141 364.2,146.3 364,148"/>
<polygon fill="#000" stroke="none" points="364,156.7 362.4,148.7 365.6,148.7"/>
<path d="M400.4,142.6 C400.3,143.5 399.2,146.3 400,148 C400.8,149.7 403.9,150.8 405,153 C406.1,155.2 406.2,159.7 406.5,161"/>
<path d="M447.4,135 C447.8,136.2 450.4,139.8 449.5,142 C448.6,144.2 443.4,145.6 442,148 C440.6,150.4 441.4,155.2 441.3,156.7"/>
<path d="M273,153.4 C272.9,152.2 272.9,148.2 272.4,146 C271.9,143.8 271,141.8 270,140 C269,138.2 267,136.1 266.4,135.3"/>
<path d="M288,164.3 C289.9,164 295.5,162.3 299.7,162.6 C303.9,162.9 309.3,164.6 313,166 C316.7,167.4 319.2,169.7 321.7,170.9 C324.2,172.1 325.4,172.8 328,173 C330.6,173.2 334.1,173.1 337,172 C339.9,170.9 344.2,167.4 345.6,166.5"/>
<path d="M486.8,82.8 C486.5,83.3 484.7,85 485,86 C485.3,87 487.9,88 488.4,89 C488.9,90 488.1,91 487.8,92 C487.5,93 487,94.7 486.8,95.2"/>
<path d="M522,82 C521.4,82.8 519.3,85.4 518.5,87 C517.7,88.6 516.9,90 517.3,91.5 C517.7,93 520.2,94.7 521,96 C521.8,97.3 522.3,97.8 522,99.5 C521.7,101.2 519.8,105.3 519.4,106.5"/>
<path d="M520.4,151 C520.7,150.3 522.7,148.5 522.4,147 C522.1,145.5 518.9,144.1 518.6,142 C518.3,139.9 520.1,135.6 520.4,134.3"/>
<path d="M546.5,133.3 L564,132.4"/>
<path d="M564,132.4 C564.5,133.3 565.6,136.2 567,138 C568.4,139.8 571.7,140.8 572.6,143 C573.5,145.2 572.6,149.7 572.6,151"/>
<path d="M563.7,48.6 C564.4,49.6 565.8,53.1 567.9,54.5 C570,55.9 574,56.6 576.4,57.2 C578.8,57.9 581.4,58.2 582.4,58.4"/>
<path d="M580.6,36.8 C580.8,38.2 580.1,42.4 581.5,45.2 C582.9,48 587.2,50.9 589,53.7 C590.8,56.5 591.6,59.7 592.5,62.1 C593.4,64.5 593.8,67 594.1,68"/>
<path d="M622,59.4 C621.4,59.5 619.5,60.8 618.5,60.2 C617.5,59.6 616.8,57 615.8,56 C614.8,55 613.6,54.1 612.6,54 C611.6,53.9 610.1,55 609.6,55.2"/>
<path d="M624.3,78.7 C623.4,78.8 620.5,78.8 619,79.4 C617.5,80 615.8,80.9 615,82.4 C614.2,83.9 615.2,86.4 614.5,88.4 C613.8,90.4 612.2,92.7 611,94.3 C609.8,95.9 608,97.4 607.4,98"/>
<path d="M661.7,83 C660.8,83.8 657.5,86.9 656,87.5 C654.5,88.1 653.8,86 652.5,86.6 C651.2,87.2 649.9,90.3 648.5,91 C647.1,91.7 645.7,90.4 644.4,91 C643.1,91.6 641.2,93.8 640.6,94.4"/>
<polygon fill="#000" stroke="none" points="636.6,96.4 641.5,91.2 643.3,93.8"/>
<path d="M684.6,95 C683.7,95.4 680.5,97.3 679,97.5 C677.5,97.7 676.8,96 675.5,96.4 C674.2,96.8 672.4,99.3 671,99.8 C669.6,100.3 668.3,99.2 667,99.6 C665.7,100 663.7,101.6 663,102"/>
<polygon fill="#000" stroke="none" points="658.5,103.9 664.1,99.5 665.5,102.4"/>
<path d="M642.9,138.3 C642.3,137.5 639.7,135.1 639.4,133.5 C639.1,131.9 639.9,130.6 641,129 C642.1,127.4 644.8,126 646,124 C647.2,122 647.7,118.2 648,117"/>
<path d="M743.3,147.2 C742.9,147.9 742.1,150.5 740.7,151.2 C739.3,151.9 737,151.6 735,151.6 C733,151.6 731.1,150.2 729,150.9 C726.9,151.6 723.7,155.2 722.6,156"/>
<path d="M621,170.6 C621.8,170.5 624.3,169.8 626,170.2 C627.7,170.6 628.9,172.6 631,173 C633.1,173.4 637.5,172.7 638.8,172.6"/>
<path d="M702.6,247.6 C703.2,248 705.2,248.9 706,250 C706.8,251.1 707,252.8 707.6,254 C708.2,255.2 708.6,256.3 709.4,257 C710.2,257.7 712.1,258.1 712.6,258.3"/>
<path d="M584.5,219.6 C585.2,219.7 588.1,219.4 589,220 C589.9,220.6 589.7,222.1 590,223 C590.3,223.9 590.7,225.2 590.8,225.6"/>
<path d="M592.4,229 L596,229" stroke-width="1.5"/>
</g>
<g class="lbl">
<text transform="translate(100.5,15) scale(0.76,1)" font-size="16.9">F</text>
<text transform="translate(23.6,176.8) scale(0.857,1)" font-size="16.9">A</text>
<text transform="translate(259.6,31) scale(0.857,1)" font-size="16.9">10</text>
<text transform="translate(415.2,33.6) scale(0.857,1)" font-size="16.9">14</text>
<text transform="translate(355.5,111.6) scale(0.857,1)" font-size="16.9">30</text>
<text transform="translate(392.8,140.9) scale(0.857,1)" font-size="16.9">12</text>
<text transform="translate(440.1,133.6) scale(0.857,1)" font-size="16.9">16</text>
<text transform="translate(267.3,169) scale(0.857,1)" font-size="16.9">38</text>
<text transform="translate(478.2,80.5) scale(0.857,1)" font-size="16.9">44</text>
<text transform="translate(515,79.4) scale(0.857,1)" font-size="16.9">40</text>
<text transform="translate(512,163.4) scale(0.857,1)" font-size="16.9">42</text>
<text transform="translate(565.2,162.9) scale(0.857,1)" font-size="16.9">32</text>
<text transform="translate(595.7,154.9) scale(0.857,1)" font-size="16.9">30</text>
<text transform="translate(633.8,153.9) scale(0.857,1)" font-size="16.9">28</text>
<text transform="translate(548.7,46.8) scale(0.857,1)" font-size="16.9">36</text>
<text transform="translate(573,34.5) scale(0.857,1)" font-size="16.9">18</text>
<text transform="translate(622.8,61.7) scale(0.857,1)" font-size="16.9">24</text>
<text transform="translate(624.7,81.7) scale(0.857,1)" font-size="16.9">22</text>
<text transform="translate(660.5,79.9) scale(0.857,1)" font-size="16.9">20</text>
<text transform="translate(686.3,93.3) scale(0.857,1)" font-size="16.9">46</text>
<text transform="translate(736,144.9) scale(0.857,1)" font-size="16.9">26</text>
<text transform="translate(639.5,177.5) scale(0.857,1)" font-size="16.9">34</text>
<text transform="translate(713,265.4) scale(0.857,1)" font-size="16.9">45</text>
<text transform="translate(597.4,232.8) scale(0.857,1)" font-size="16.9">11</text>
</g>
<text transform="translate(398.8,410.5) scale(0.975,1)" font-size="23.3" class="cap" word-spacing="1.4">ФИГ. 1</text>
</g>
</svg>
</body>
</html>
